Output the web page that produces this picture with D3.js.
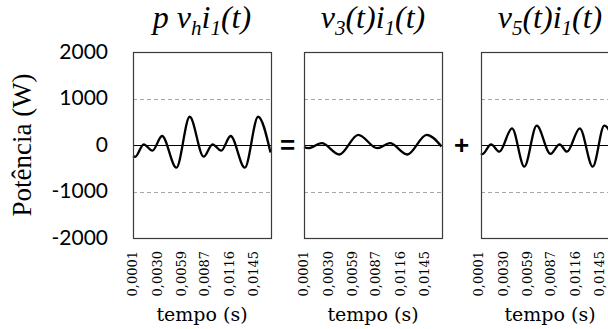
<!DOCTYPE html>
<html>
<head>
<meta charset="utf-8">
<script src="https://cdn.jsdelivr.net/npm/d3@7"></script>
<style>
  body { margin: 0; background: #fff; }
  svg { display: block; }
</style>
</head>
<body>
<div id="chart"></div>
<script>
// Eixos
const timeTicks = [0.0001, 0.0030, 0.0059, 0.0087, 0.0116, 0.0145];
const powerTicks = [-2000, -1000, 0, 1000, 2000];
const gridTicks = [-1000, 1000];

// p vh i1(t) = v3 i1 + v5 i1
const timeP = [0.00010, 0.00036, 0.00138, 0.00242, 0.00357, 0.00529, 0.00688, 0.00855, 0.00961, 0.01065, 0.01177, 0.01347, 0.01506, 0.01654];
const powerP = [-240, -255, 15, -123, 194, -488, 608, -252, 15, -123, 194, -488, 608, -160];

const timeV3 = [0.00010, 0.00061, 0.00222, 0.00432, 0.00659, 0.00886, 0.01038, 0.01245, 0.01477, 0.01654];
const powerV3 = [-47, -69, 39, -204, 219, -69, 39, -204, 219, -30];

const timeV5 = [0.00010, 0.00028, 0.00130, 0.00229, 0.00381, 0.00528, 0.00676, 0.00841, 0.00949, 0.01038, 0.01191, 0.01346, 0.01484, 0.01654];
const powerV5 = [-178, -195, 15, -144, 359, -467, 415, -190, 15, -144, 359, -467, 415, -180];

const titles = [
    [['p ', 0], ['v', 0], ['h', 1], ['i', 0], ['1', 1], ['(t)', 0]],
    [['v', 0], ['3', 1], ['(t)', 0], ['i', 0], ['1', 1], ['(t)', 0]],
    [['v', 0], ['5', 1], ['(t)', 0], ['i', 0], ['1', 1], ['(t)', 0]]
];
const operators = ['=', '+'];

const series = [
    { time: timeP, power: powerP },
    { time: timeV3, power: powerV3 },
    { time: timeV5, power: powerV5 }
];

const width = 608, height = 329;
const panelLeft = [133, 304, 481];
const panelWidth = 138;
const plotTop = 52, plotBottom = 238;

const svg = d3.select('#chart')
    .append('svg')
    .attr('width', width)
    .attr('height', height);

const yScale = d3.scaleLinear()
    .domain([-2000, 2000])
    .range([plotBottom, plotTop]);

const xScale = d3.scaleLinear()
    .domain([0.0001, 0.0166])
    .range([0, panelWidth]);

const ptBR = d3.formatLocale({ decimal: ',', thousands: '.', grouping: [3], currency: ['R$', ''] });
const fmtTime = ptBR.format('.4f');

const line = d3.line()
    .x(d => xScale(d[0]))
    .y(d => yScale(d[1]))
    .curve(d3.curveMonotoneX);

series.forEach((s, i) => {
    const g = svg.append('g')
        .attr('transform', `translate(${panelLeft[i]},0)`);

    // Grade tracejada
    g.selectAll('.grid')
        .data(gridTicks)
        .enter()
        .append('line')
        .attr('x1', 0)
        .attr('x2', panelWidth)
        .attr('y1', d => Math.round(yScale(d)) + 0.5)
        .attr('y2', d => Math.round(yScale(d)) + 0.5)
        .attr('stroke', '#a6a6a6')
        .attr('stroke-width', 1)
        .attr('stroke-dasharray', '4,3');

    // Linha do zero
    g.append('line')
        .attr('x1', 0)
        .attr('x2', panelWidth)
        .attr('y1', Math.round(yScale(0)) + 0.5)
        .attr('y2', Math.round(yScale(0)) + 0.5)
        .attr('stroke', '#000')
        .attr('stroke-width', 1);

    // Curva
    g.append('path')
        .datum(s.time.map((t, k) => [t, s.power[k]]))
        .attr('d', line)
        .attr('fill', 'none')
        .attr('stroke', '#000')
        .attr('stroke-width', 2.3)
        .attr('stroke-linejoin', 'round');

    // Moldura
    g.append('rect')
        .attr('x', 0.5)
        .attr('y', plotTop + 0.5)
        .attr('width', panelWidth)
        .attr('height', plotBottom - plotTop)
        .attr('fill', 'none')
        .attr('stroke', '#3a3a3a')
        .attr('stroke-width', 1.2);

    // Eixo x (somente rótulos)
    const xAxis = d3.axisBottom(xScale)
        .tickValues(timeTicks)
        .tickFormat(fmtTime)
        .tickSize(0);

    const ax = g.append('g')
        .attr('transform', `translate(0,${plotBottom})`)
        .call(xAxis);
    ax.select('.domain').remove();
    ax.selectAll('text')
        .attr('transform', 'rotate(-90)')
        .attr('text-anchor', 'end')
        .attr('x', -13)
        .attr('y', 0)
        .attr('dx', 0)
        .attr('dy', i === 2 ? '0.15em' : '0.3em')
        .style('font-family', '"DejaVu Serif", serif')
        .style('font-size', '13px')
        .attr('fill', '#000');

    g.append('text')
        .attr('x', panelWidth / 2)
        .attr('y', 321)
        .attr('text-anchor', 'middle')
        .style('font-family', '"DejaVu Serif", serif')
        .style('font-size', '19px')
        .text('tempo (s)');

    // Título
    const title = g.append('text')
        .attr('x', panelWidth / 2)
        .attr('y', 28)
        .attr('text-anchor', 'middle')
        .style('font-family', '"Liberation Serif", "Times New Roman", serif')
        .style('font-style', 'italic')
        .style('font-size', '32px');
    let shifted = false;
    titles[i].forEach(([txt, sub]) => {
        const ts = title.append('tspan').text(txt);
        if (sub && !shifted) { ts.attr('dy', 7).style('font-size', '21px'); shifted = true; }
        else if (sub) { ts.style('font-size', '21px'); }
        else if (shifted) { ts.attr('dy', -7); shifted = false; }
    });
});

// Eixo y
const yAxis = d3.axisLeft(yScale)
    .tickValues(powerTicks)
    .tickFormat(d => String(d))
    .tickSize(0);

const ay = svg.append('g')
    .attr('transform', `translate(${panelLeft[0] - 25},0)`)
    .call(yAxis);
ay.select('.domain').remove();
ay.selectAll('text')
    .attr('x', 0)
    .attr('dy', '0.3em')
    .style('font-family', 'Lato, "Open Sans", sans-serif')
    .style('font-size', '21px')
    .attr('fill', '#000');

svg.append('text')
    .attr('transform', `translate(31,${(plotTop + plotBottom) / 2}) rotate(-90)`)
    .attr('text-anchor', 'middle')
    .style('font-family', '"Liberation Serif", "Times New Roman", serif')
    .style('font-size', '27px')
    .text('Potência (W)');

// Sinais entre os painéis
svg.selectAll('.op')
    .data(operators)
    .enter()
    .append('text')
    .attr('class', 'op')
    .attr('x', (d, i) => (panelLeft[i] + panelWidth + panelLeft[i + 1]) / 2)
    .attr('y', yScale(0))
    .attr('dy', '0.35em')
    .attr('text-anchor', 'middle')
    .style('font-family', '"Liberation Sans", Arial, sans-serif')
    .style('font-weight', 'bold')
    .style('font-size', '26px')
    .text(d => d);
</script>
</body>
</html>
